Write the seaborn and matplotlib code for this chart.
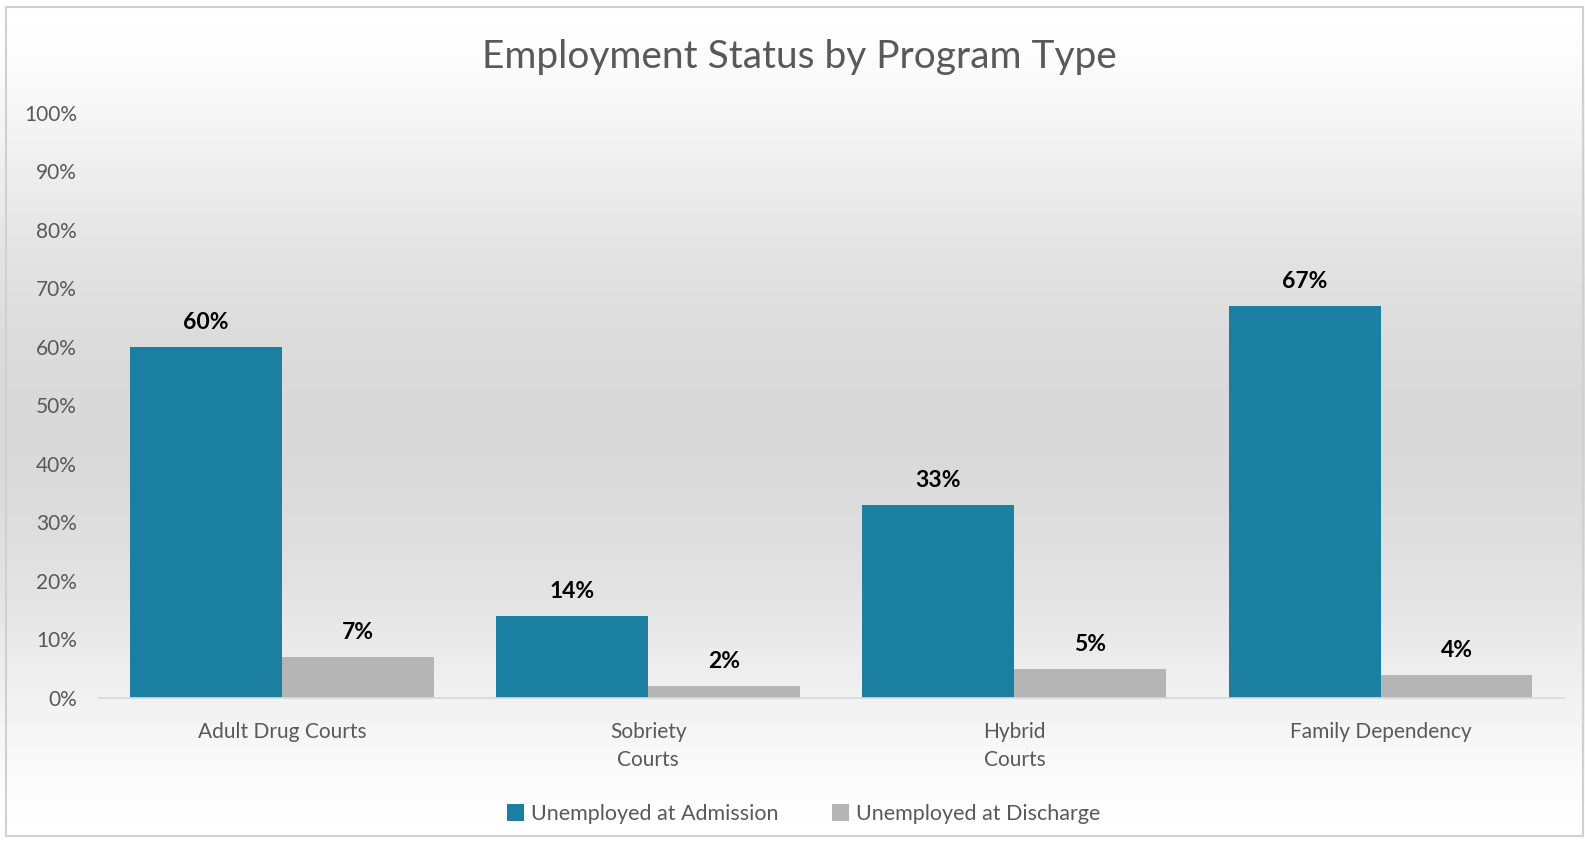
import numpy as np
import pandas as pd
import matplotlib
matplotlib.use("Agg")
import matplotlib.pyplot as plt
import seaborn as sns
from matplotlib.ticker import PercentFormatter

programs = ["Adult Drug Courts", "Sobriety\nCourts", "Hybrid\nCourts", "Family Dependency"]
admission = [60, 14, 33, 67]
discharge = [7, 2, 5, 4]
series = ["Unemployed at Admission", "Unemployed at Discharge"]
colors = ["#1a7fa0", "#b5b5b5"]

df = pd.DataFrame({
    "program": programs * 2,
    "series": [series[0]] * len(programs) + [series[1]] * len(programs),
    "value": admission + discharge,
})

sns.set_theme(style="white")
plt.rcParams["font.family"] = ["Lato", "DejaVu Sans"]

fig = plt.figure(figsize=(15.85, 8.46), dpi=100)

# vertical gradient background: white -> light grey -> white
bg = fig.add_axes([0, 0, 1, 1], zorder=-10)
t = np.linspace(0, 1, 256)
shade = 1 - 0.15 * np.sin(np.pi * t) ** 1.5
bg.imshow(shade[:, None], aspect="auto", cmap="gray", vmin=0, vmax=1,
          extent=[0, 1, 0, 1])
bg.set_axis_off()
bg.add_patch(plt.Rectangle((0.004, 0.012), 0.995, 0.98, fill=False,
                           edgecolor="#d0d0d0", lw=1.5, transform=bg.transAxes))

ax = fig.add_axes([0.0625, 0.175, 0.924, 0.692])
ax.patch.set_alpha(0)
sns.barplot(data=df, x="program", y="value", hue="series", palette=colors,
            width=0.83, gap=0, saturation=1, linewidth=0, ax=ax, legend=True)

ax.set_ylim(0, 100)
ax.set_yticks(range(0, 101, 10))
ax.yaxis.set_major_formatter(PercentFormatter(decimals=0))
ax.set_xlabel("")
ax.set_ylabel("")
for s in ["top", "right", "left"]:
    ax.spines[s].set_visible(False)
ax.spines["bottom"].set_color("#d9d9d9")
ax.tick_params(axis="y", labelsize=15, labelcolor="#595959", length=0, pad=16)
ax.tick_params(axis="x", labelsize=15, labelcolor="#595959", length=0, pad=17)
for lbl in ax.get_xticklabels():
    lbl.set_linespacing(1.5)

for cont in ax.containers:
    ax.bar_label(cont, fmt="%g%%", padding=10, fontsize=16.5, fontweight="bold",
                 color="#000000")

ax.set_title("Employment Status by Program Type", fontsize=28, color="#595959",
             pad=32, x=0.478)

handles, labels = ax.get_legend_handles_labels()
ax.legend_.remove()
fig.legend(handles, labels, loc="center", bbox_to_anchor=(0.507, 0.038), ncol=2,
           frameon=False, fontsize=15.5, labelcolor="#595959", handlelength=0.8,
           handleheight=0.8, handletextpad=0.3, columnspacing=2.5)

fig.savefig("out.png", dpi=100)
